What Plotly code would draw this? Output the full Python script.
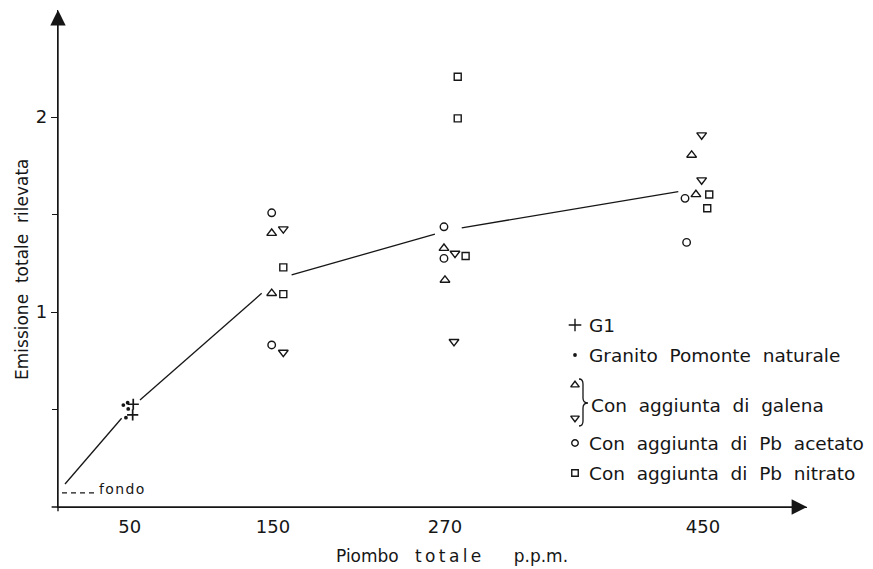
import plotly.graph_objects as go

# ---------------- data ----------------
# G1 standard (+)
g1_x = [52.5, 52.1]
g1_y = [0.527, 0.472]
# Granito Pomonte naturale (dots)
granito_x = [45.6, 48.6, 49.0, 47.4]
granito_y = [0.523, 0.535, 0.503, 0.458]
# Con aggiunta di galena (triangle up / triangle down)
galena_up_x = [149.1, 149.1, 269.3, 270.0, 442.1, 445.1]
galena_up_y = [1.404, 1.096, 1.327, 1.164, 1.805, 1.603]
galena_dn_x = [157.2, 157.2, 277.0, 276.3, 449.1, 449.1]
galena_dn_y = [1.426, 0.793, 1.301, 0.848, 1.908, 1.677]
# Con aggiunta di Pb acetato (circles)
acetato_x = [149.1, 149.1, 269.3, 269.3, 437.5, 438.6]
acetato_y = [1.509, 0.831, 1.437, 1.275, 1.583, 1.357]
# Con aggiunta di Pb nitrato (squares)
nitrato_x = [157.2, 157.2, 278.9, 278.9, 284.4, 454.4, 453.0]
nitrato_y = [1.229, 1.092, 2.207, 1.993, 1.287, 1.603, 1.532]
# hand-drawn trend line (gaps around the marker groups)
trend_x = [4.9, 44.4, None, 57.2, 142.1, None, 163.0, 263.0, None, 281.7, 432.8]
trend_y = [0.118, 0.455, None, 0.549, 1.096, None, 1.190, 1.400, None, 1.432, 1.617]
# background level ("fondo")
fondo_x = [2.8, 26.5]
fondo_y = [0.072, 0.072]

x_ticks = [50, 150, 270, 450]
x_ticklabels = ["50", "150", "270", "450"]
y_ticks = [1, 2]
y_ticklabels = ["1", "2"]
y_minor = [0.5, 1.5]

legend_labels = ["G1", "Granito Pomonte naturale", "Con aggiunta di galena",
                 "Con aggiunta di Pb acetato", "Con aggiunta di Pb nitrato"]

# ---------------- layout constants ----------------
W, H = 873, 569
ML, MR, MT, MB = 58, 66, 10, 62
X_MAX = 522.6
Y_MAX = 2.549
INK = "#161616"
FONT = "DejaVu Sans"
NB = "\u00a0"
THIN = "\u2009"
HAIR = "\u200a"

def px2paper(px, py):
    return (px - ML) / (W - ML - MR), ((H - MB) - py) / (H - MT - MB)

def paper2data(xp, yp):
    return xp * X_MAX, yp * Y_MAX

fig = go.Figure()

# trend line
fig.add_trace(go.Scatter(x=trend_x, y=trend_y, mode="lines",
                         line=dict(color=INK, width=1.3), connectgaps=False,
                         hoverinfo="skip", showlegend=False))
# fondo dashed line
fig.add_trace(go.Scatter(x=fondo_x, y=fondo_y, mode="lines",
                         line=dict(color=INK, width=1.3, dash="5px,4px"),
                         hoverinfo="skip", showlegend=False))

def add_markers(xs, ys, symbol, size, lw=1.3, name=""):
    fig.add_trace(go.Scatter(x=xs, y=ys, mode="markers", name=name,
                             marker=dict(symbol=symbol, size=size, color=INK,
                                         line=dict(color=INK, width=lw)),
                             cliponaxis=False, showlegend=False))

add_markers(g1_x, g1_y, "cross-thin-open", 8, 1.7, "G1")
add_markers(granito_x, granito_y, "circle", 3.8, 0, "Granito")
add_markers(galena_up_x, galena_up_y, "triangle-up-open", 8.5, 1.4, "galena")
add_markers(galena_dn_x, galena_dn_y, "triangle-down-open", 8.5, 1.4, "galena")
add_markers(acetato_x, acetato_y, "circle-open", 7.5, 1.4, "acetato")
add_markers(nitrato_x, nitrato_y, "square-open", 7, 1.4, "nitrato")

# V-shaped notches under the x axis at the tick positions
fig.add_trace(go.Scatter(x=x_ticks, y=[-0.016] * len(x_ticks), mode="markers",
                         marker=dict(symbol="triangle-down-open", size=12, color=INK,
                                     line=dict(color=INK, width=1.2)),
                         cliponaxis=False, hoverinfo="skip", showlegend=False))

# ---------------- custom legend ----------------
sym_px = 575
txt_px = 587
leg_rows = [  # (symbol, symbol y px, text, text y px)
    ("cross-thin-open", 325, legend_labels[0], 325),
    ("circle", 355, legend_labels[1], 355),
    ("triangle-up-open", 385, None, None),
    ("triangle-down-open", 418, legend_labels[2], 405),
    ("circle-open", 443, legend_labels[3], 443),
    ("square-open", 473, legend_labels[4], 473),
]
sym_sizes = {"cross-thin-open": 9, "circle": 3.8, "triangle-up-open": 7.5,
             "triangle-down-open": 7.5, "circle-open": 6.5, "square-open": 6.5}
for sym, sy, txt, ty in leg_rows:
    xd, yd = paper2data(*px2paper(sym_px, sy))
    fig.add_trace(go.Scatter(x=[xd], y=[yd], mode="markers",
                             marker=dict(symbol=sym, size=sym_sizes[sym], color=INK,
                                         line=dict(color=INK, width=1.4 if sym != "circle" else 0)),
                             cliponaxis=False, hoverinfo="skip", showlegend=False))
    if txt:
        xp, yp = px2paper(txt_px + (2 if "galena" in txt else 0), ty)
        fig.add_annotation(x=xp, y=yp, xref="paper", yref="paper",
                           text=txt.replace(" ", NB * 2),
                           showarrow=False, xanchor="left", yanchor="middle",
                           font=dict(family=FONT, size=18.5, color=INK))

# brace grouping the two triangles
def bp(px, py):
    xp, yp = px2paper(px, py)
    return f"{xp:.5f},{yp:.5f}"
brace = (f"M{bp(579,379)} Q{bp(583,379)} {bp(583,384)} L{bp(583,398)} "
         f"Q{bp(583,403)} {bp(588,403)} Q{bp(583,403)} {bp(583,408)} "
         f"L{bp(583,421)} Q{bp(583,426)} {bp(579,426)}")
fig.add_shape(type="path", path=brace, xref="paper", yref="paper",
              line=dict(color=INK, width=1.3))

# ---------------- axes arrows / labels ----------------
fig.add_annotation(x=X_MAX, y=0, ax=-5.5, ay=0, xref="x", yref="y", axref="x", ayref="y",
                   text="", showarrow=True, arrowhead=2, arrowsize=2.2, arrowwidth=1.4,
                   arrowcolor=INK, standoff=0)
fig.add_annotation(x=0, y=Y_MAX, ax=0, ay=-0.03, xref="x", yref="y", axref="x", ayref="y",
                   text="", showarrow=True, arrowhead=2, arrowsize=2.2, arrowwidth=1.4,
                   arrowcolor=INK, standoff=0)
fig.add_annotation(x=-10.5, y=-0.064, xref="x", yref="y", text="0", showarrow=False,
                   xanchor="center", yanchor="middle",
                   font=dict(family=FONT, size=18, color=INK))
fig.add_annotation(x=27.5, y=0.094, xref="x", yref="y",
                   text=HAIR.join("fondo"), showarrow=False,
                   xanchor="left", yanchor="middle",
                   font=dict(family=FONT, size=14, color=INK))

xp, yp = px2paper(22, 269)
fig.add_annotation(x=xp, y=yp, xref="paper", yref="paper",
                   xanchor="center", yanchor="middle",
                   text=f"Emissione{NB*2}totale{NB*2}rilevata", textangle=-90,
                   showarrow=False, font=dict(family=FONT, size=17, color=INK))
xp, yp = px2paper(452, 556)
fig.add_annotation(x=xp, y=yp, xref="paper", yref="paper",
                   xanchor="center", yanchor="middle",
                   text=f"Piombo{NB*3}{THIN.join('totale')}{NB*6}p.p.m.", showarrow=False,
                   font=dict(family=FONT, size=17, color=INK))

fig.update_xaxes(range=[0, X_MAX], showgrid=False, zeroline=False,
                 showline=True, linecolor=INK, linewidth=1.4,
                 tickmode="array", tickvals=x_ticks, ticktext=x_ticklabels,
                 ticks="", ticklabelstandoff=3,
                 tickfont=dict(family=FONT, size=18, color=INK))
fig.update_yaxes(range=[0, Y_MAX], showgrid=False, zeroline=False,
                 showline=True, linecolor=INK, linewidth=1.4,
                 tickmode="array", tickvals=y_ticks, ticktext=y_ticklabels,
                 ticks="outside", ticklen=6, tickwidth=1.3, tickcolor=INK,
                 minor=dict(tickvals=y_minor, ticks="outside", ticklen=5,
                            tickwidth=1.1, tickcolor=INK),
                 tickfont=dict(family=FONT, size=18, color=INK))

fig.update_layout(width=W, height=H, margin=dict(l=ML, r=MR, t=MT, b=MB),
                  paper_bgcolor="white", plot_bgcolor="white", showlegend=False)

fig.write_html("out.html")
